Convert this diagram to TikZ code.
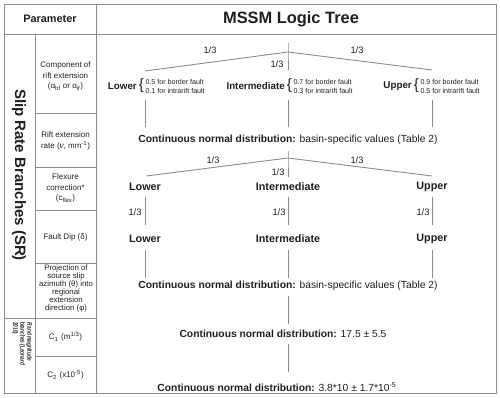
\documentclass[tikz,border=0pt]{standalone}
\usepackage{fontspec}
\setmainfont{Liberation Sans}
\usetikzlibrary{positioning}

\definecolor{rule}{gray}{0.55}
\definecolor{ink}{gray}{0.12}

\tikzset{
  grid/.style={draw=rule,line width=0.9pt},
  branch/.style={draw=rule,line width=0.9pt},
  head/.style={font=\fontsize{10.9}{12}\bfseries\selectfont,text=ink,inner sep=1pt},
  title/.style={font=\fontsize{16.4}{18}\bfseries\selectfont,text=ink,inner sep=1pt},
  side/.style={font=\fontsize{15}{16}\bfseries\selectfont,text=ink,inner sep=1pt},
  rside/.style={font=\fontsize{6.6}{7.5}\bfseries\selectfont,text=ink,inner sep=0pt,rotate=-90,anchor=west},
  param/.style={font=\fontsize{8}{10.5}\selectfont,align=center,text=ink,inner sep=1pt},
  proj/.style={font=\fontsize{7.8}{8}\selectfont,align=center,text=ink,inner sep=1pt},
  split/.style={font=\fontsize{9.8}{11}\bfseries\selectfont,text=ink,inner sep=1pt},
  level/.style={font=\fontsize{10.8}{12}\bfseries\selectfont,text=ink,inner sep=1pt},
  dist/.style={font=\fontsize{10.3}{12}\selectfont,text=ink,inner sep=1pt},
  prob/.style={font=\fontsize{9.3}{10}\selectfont,text=ink,inner sep=1pt},
  bnd/.style={font=\fontsize{7.1}{8}\selectfont,text=ink,inner sep=0pt,anchor=west},
  brc/.style={font=\fontsize{15}{15}\selectfont,text=ink,inner sep=0.2pt},
}

\begin{document}
\begin{tikzpicture}[x=1pt,y=-1pt]
  \useasboundingbox (0,0) rectangle (500,397);

  % table frame
  \draw[grid] (4,4) rectangle (496,393);
  \draw[grid] (4,34) -- (496,34);
  \draw[grid] (96,4) -- (96,393);
  \draw[grid] (35,34) -- (35,393);
  \foreach \y in {113,167,210,263,356}
    \draw[grid] (35,\y) -- (96,\y);
  \draw[grid] (4,318) -- (96,318);

  \node[head] (parhead) at (50,19) {Parameter};
  \node[title] (treehead) at (291,19) {MSSM Logic Tree};

  \node[side,rotate=-90] (srlabel) at (19,175) {Slip Rate Branches (SR)};
  \node[rside] (rmline1) at (29,322) {\scalebox{0.72}[1]{\textit{R} and magnitude}};
  \node[rside] (rmline2) at (22,322) {\scalebox{0.72}[1]{branches (Leonard}};
  \node[rside] (rmline3) at (15,322) {\scalebox{0.72}[1]{2010)}};

  % parameter column
  \node[param] (comp) at (65.5,76) {Component of\\rift extension\\(α\textsubscript{bf} or α\textsubscript{if})};
  \node[param] (rate) at (65.5,141) {Rift extension\\rate (\textit{v}, mm\textsuperscript{-1})};
  \node[param] (flex) at (65.5,188) {Flexure\\correction*\\(c\textsubscript{flex})};
  \node[param] (dip) at (65.5,237) {Fault Dip (δ)};
  \node[proj] (projn) at (66,288) {Projection of\\source slip\\azimuth (θ) into\\regional\\extension\\direction (φ)};
  \node[param] (cone) at (65.5,337) {C\textsubscript{1}\,\,(m\textsuperscript{1/3})};
  \node[param] (ctwo) at (65.5,375) {C\textsubscript{2}\,\,(x10\textsuperscript{-5})};

  % first split: component of rift extension
  \coordinate (rootA) at (288,52);
  \coordinate (stubA) at (288,43);
  \coordinate (lowA) at (145,71);
  \coordinate (midA) at (288,70);
  \coordinate (upA) at (432,70);
  \draw[branch] (stubA) -- (rootA) -- (midA);
  \draw[branch] (rootA) -- (lowA);
  \draw[branch] (rootA) -- (upA);
  \node[prob] (pla) at (210,50) {1/3};
  \node[prob] (pma) at (277,64) {1/3};
  \node[prob] (pua) at (357,50) {1/3};

  \node[split,anchor=east] (low1) at (138,86) {Lower};
  \node[brc,right=0.5pt of low1] (lowbrc) {\{};
  \node[bnd] (lowbf) at ([xshift=1pt]lowbrc.east |- 0,82) {0.5 for border fault};
  \node[bnd] (lowif) at ([xshift=1pt]lowbrc.east |- 0,91) {0.1 for intrarift fault};
  \node[split,anchor=east] (mid1) at (286,86) {Intermediate};
  \node[brc,right=0.5pt of mid1] (midbrc) {\{};
  \node[bnd] (midbf) at ([xshift=1pt]midbrc.east |- 0,82) {0.7 for border fault};
  \node[bnd] (midif) at ([xshift=1pt]midbrc.east |- 0,91) {0.3 for intrarift fault};
  \node[split,anchor=east] (up1) at (413,86) {Upper};
  \node[brc,right=0.5pt of up1] (upbrc) {\{};
  \node[bnd] (upbf) at ([xshift=1pt]upbrc.east |- 0,82) {0.9 for border fault};
  \node[bnd] (upif) at ([xshift=1pt]upbrc.east |- 0,91) {0.5 for intrarift fault};

  \foreach \x in {145,288,432}
    \draw[branch] (\x,100) -- (\x,127);

  \node[dist] (rateval) at (288,140) {\textbf{Continuous normal distribution:} basin-specific values (Table 2)};

  % second split: flexure correction
  \coordinate (rootB) at (288,158);
  \coordinate (stubB) at (288,151);
  \coordinate (lowB) at (146,176);
  \coordinate (midB) at (288,177);
  \coordinate (upB) at (432,176);
  \draw[branch] (stubB) -- (rootB) -- (midB);
  \draw[branch] (rootB) -- (lowB);
  \draw[branch] (rootB) -- (upB);
  \node[prob] (plb) at (213,160) {1/3};
  \node[prob] (pmb) at (278,172) {1/3};
  \node[prob] (pub) at (357,160) {1/3};

  \node[level] (low2) at (145,187) {Lower};
  \node[level] (mid2) at (288,187) {Intermediate};
  \node[level] (up2) at (432,187) {Upper};

  \foreach \x in {145,288,432}
    \draw[branch] (\x,197) -- (\x,225);
  \node[prob] (plc) at (135,212) {1/3};
  \node[prob] (pmc) at (279,212) {1/3};
  \node[prob] (puc) at (423,212) {1/3};

  % fault dip
  \node[level] (low3) at (145,239) {Lower};
  \node[level] (mid3) at (288,239) {Intermediate};
  \node[level] (up3) at (432,239) {Upper};

  \foreach \x in {145,288,432}
    \draw[branch] (\x,250) -- (\x,278);

  \node[dist] (projval) at (288,286) {\textbf{Continuous normal distribution:} basin-specific values (Table 2)};
  \draw[branch] (288,296) -- (288,324);
  \node[dist] (coneval) at (283,334) {\textbf{Continuous normal distribution:} 17.5 ± 5.5};
  \draw[branch] (288,344) -- (288,372);
  \node[dist] (ctwoval) at (277,387) {\textbf{Continuous normal distribution:} 3.8*10 ± 1.7*10\textsuperscript{-5}};
\end{tikzpicture}
\end{document}
